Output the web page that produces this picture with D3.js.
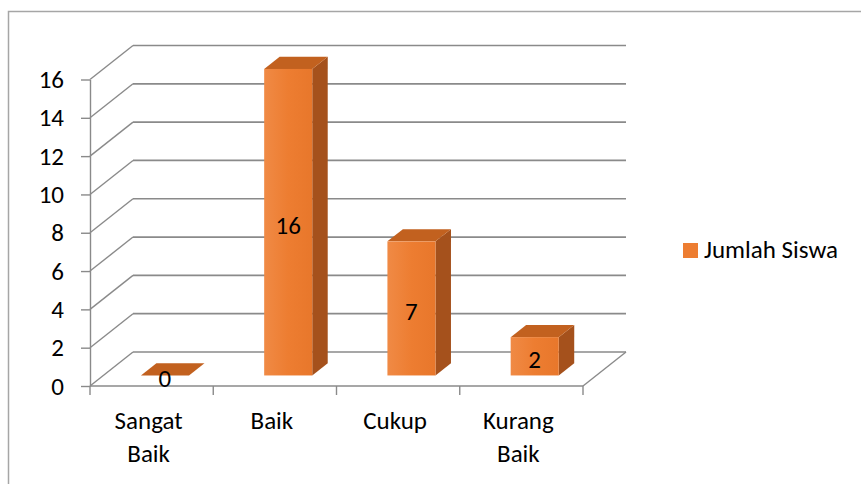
<!DOCTYPE html>
<html>
<head>
<meta charset="utf-8">
<script src="https://cdn.jsdelivr.net/npm/d3@7"></script>
<style>
  html, body { margin: 0; padding: 0; background: #fff; }
  svg { display: block; font-family: Carlito, Calibri, Lato, sans-serif; }
</style>
</head>
<body>
<div id="chart"></div>
<script>
// data
const categories = ["Sangat Baik", "Baik", "Cukup", "Kurang Baik"];
const jumlahSiswa = [0, 16, 7, 2];
const yTicks = [0, 2, 4, 6, 8, 10, 12, 14, 16];
const seriesName = "Jumlah Siswa";

const W = 861, H = 484;
const fontSize = 25;
const svg = d3.select("#chart").append("svg").attr("width", W).attr("height", H);

// chart frame (right and bottom sides fall outside the picture)
svg.append("rect")
  .attr("x", 8.5).attr("y", 11.5).attr("width", 900).attr("height", 500)
  .attr("fill", "none").attr("stroke", "#a6a6a6").attr("stroke-width", 1.5);

// front plane scales
const x = d3.scaleBand().domain(categories).range([90, 583]).paddingInner(0.61).paddingOuter(0.305);
const y = d3.scaleLinear().domain([0, 16]).range([386, 79.5]);

// depth of the box (full) and of the bars
const depth = { dx: 43, dy: -34 };
const barFront = 0.31, barDepth = 0.36;
const fdx = depth.dx * barFront, fdy = depth.dy * barFront;
const bdx = depth.dx * barDepth, bdy = depth.dy * barDepth;

const gridColor = "#8a8a8a";
const g = svg.append("g");

// back wall gridlines
g.selectAll(".grid").data(yTicks).enter().append("line")
  .attr("x1", 90 + depth.dx).attr("x2", 583 + depth.dx)
  .attr("y1", d => y(d) + depth.dy).attr("y2", d => y(d) + depth.dy)
  .attr("stroke", gridColor).attr("stroke-width", 1.7);

// side wall diagonals
g.selectAll(".diag").data(yTicks).enter().append("line")
  .attr("x1", 90).attr("x2", 90 + depth.dx)
  .attr("y1", d => y(d)).attr("y2", d => y(d) + depth.dy)
  .attr("stroke", gridColor).attr("stroke-width", 1.4);

// floor right edge
g.append("line")
  .attr("x1", 583).attr("y1", y(0)).attr("x2", 583 + depth.dx).attr("y2", y(0) + depth.dy)
  .attr("stroke", gridColor).attr("stroke-width", 1.4);

// y axis
const yAxis = g.append("g").attr("transform", "translate(90,0)")
  .call(d3.axisLeft(y).tickValues(yTicks).tickSizeInner(9).tickSizeOuter(0).tickPadding(17));
yAxis.selectAll("path, line").attr("stroke", gridColor).attr("stroke-width", 1.4);
yAxis.selectAll("text").attr("font-size", fontSize).attr("fill", "#000")
  .attr("font-family", "Carlito, Calibri, Lato, sans-serif");

// x axis line and category boundary ticks
g.append("line").attr("x1", 90).attr("x2", 583).attr("y1", y(0)).attr("y2", y(0))
  .attr("stroke", gridColor).attr("stroke-width", 1.7);
const bounds = d3.range(categories.length + 1).map(i => 90 + i * x.step());
g.selectAll(".xtick").data(bounds).enter().append("line")
  .attr("x1", d => d).attr("x2", d => d).attr("y1", y(0)).attr("y2", y(0) + 9)
  .attr("stroke", gridColor).attr("stroke-width", 1.4);

// category labels, wrapped on the space
const catLabels = g.selectAll(".cat").data(categories).enter().append("text")
  .attr("x", d => x(d) + x.bandwidth() / 2 - 3)
  .attr("y", y(0) + 43)
  .attr("text-anchor", "middle").attr("font-size", fontSize).attr("fill", "#000");
catLabels.each(function(d) {
  const words = d.split(" ");
  const t = d3.select(this);
  words.forEach((w, i) => {
    t.append("tspan").attr("x", t.attr("x")).attr("dy", i === 0 ? 0 : 33).text(w);
  });
});

// gradient for the front faces
const defs = svg.append("defs");
const gf = defs.append("linearGradient").attr("id", "front").attr("x1", 0).attr("x2", 1);
gf.append("stop").attr("offset", 0).attr("stop-color", "#f08a45");
gf.append("stop").attr("offset", 0.5).attr("stop-color", "#ed7d31");
gf.append("stop").attr("offset", 1).attr("stop-color", "#e8772b");

// bars
const bars = g.selectAll(".bar").data(categories).enter().append("g");
bars.each(function(c, i) {
  const v = jumlahSiswa[i];
  const x0 = x(c) + fdx, x1 = x0 + x.bandwidth();
  const yb = y(0) + fdy, yt = y(v) + fdy;
  const b = d3.select(this);
  // side face
  b.append("path")
    .attr("d", `M${x1},${yt}L${x1 + bdx},${yt + bdy}L${x1 + bdx},${yb + bdy}L${x1},${yb}Z`)
    .attr("fill", "#a5511c");
  // top face
  b.append("path")
    .attr("d", `M${x0},${yt}L${x0 + bdx},${yt + bdy}L${x1 + bdx},${yt + bdy}L${x1},${yt}Z`)
    .attr("fill", "#c2611f");
  // front face
  b.append("rect").attr("x", x0).attr("y", yt).attr("width", x1 - x0).attr("height", yb - yt)
    .attr("fill", "url(#front)");
  // value label
  b.append("text").attr("x", (x0 + x1) / 2).attr("y", (yt + yb) / 2 + 3)
    .attr("dy", "0.35em").attr("text-anchor", "middle")
    .attr("font-size", fontSize).attr("fill", "#000").text(v);
});

// legend
const lg = svg.append("g").attr("transform", "translate(683,243)");
lg.append("rect").attr("width", 15).attr("height", 15).attr("fill", "#ed7d31");
lg.append("text").attr("x", 21).attr("y", 15).attr("font-size", fontSize).attr("fill", "#000").text(seriesName);
</script>
</body>
</html>
